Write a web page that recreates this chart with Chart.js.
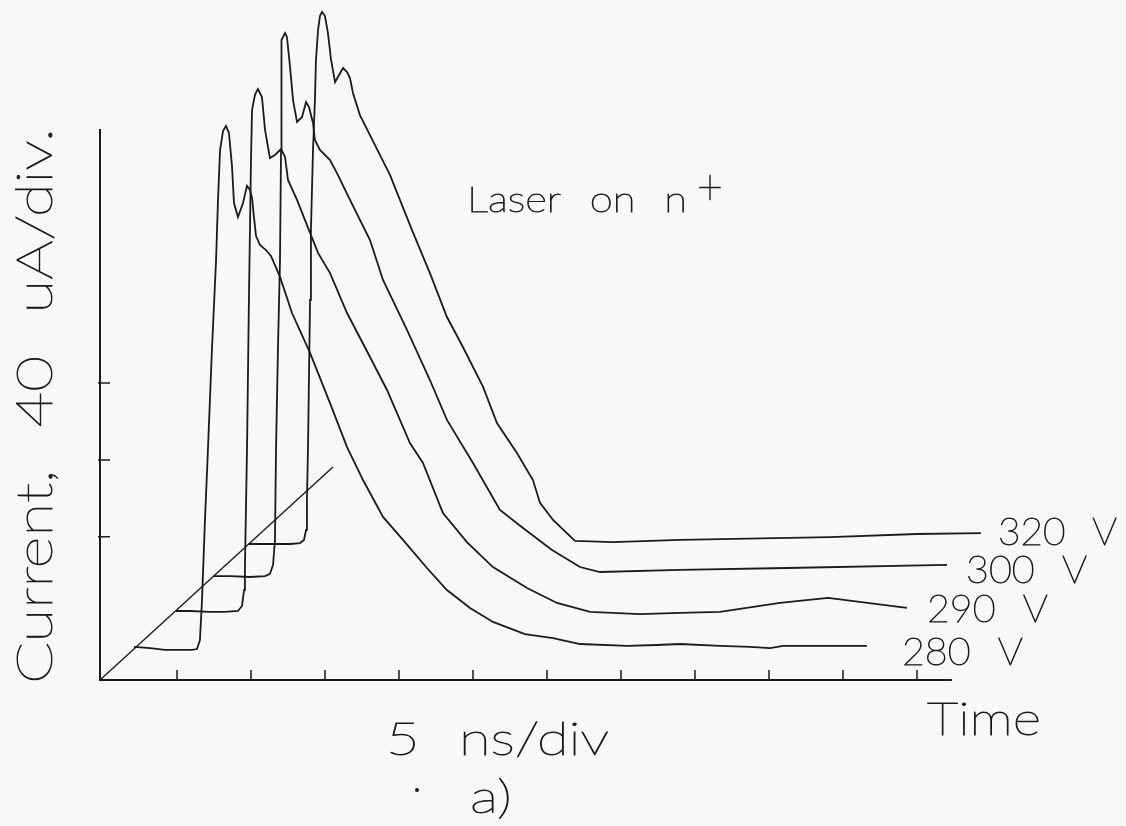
<!DOCTYPE html>
<html>
<head>
<meta charset="utf-8">
<title>Laser on n+</title>
<script src="https://cdn.jsdelivr.net/npm/chart.js@4.4.1/dist/chart.umd.min.js"></script>
<style>
  html, body { margin: 0; padding: 0; background: #f8f8f8; }
  canvas { display: block; }
</style>
</head>
<body>
<canvas id="pulseChart" width="1126" height="826"></canvas>
<script>
// ---- data: time in ns, current in uA ----
// 280 V
const time280 = [2.09,3.18,4.19,5.20,6.01,6.35,6.55,6.69,6.89,7.09,7.36,7.64,7.77,7.91,8.11,8.31,8.51,8.72,8.85,9.12,9.46,9.73,9.93,10.07,10.20,10.34,10.61,11.01,11.35,11.96,12.77,13.99,15.34,16.49,17.57,18.92,20.27,21.89,23.24,24.80,26.35,28.51,30.41,32.23,35.41,37.43,38.99,41.69,43.72,45.07,45.95,51.62];
const current280 = [-17.4,-18.0,-19.0,-19.0,-19.0,-18.5,-13.8,7.0,48.7,85.2,137.2,184.1,215.4,241.4,251.3,253.9,250.3,232.6,213.8,206.5,213.8,222.7,220.6,216.4,206.5,196.6,191.9,189.3,186.2,175.3,156.5,135.7,109.6,86.7,69.5,50.3,38.3,23.7,12.2,2.9,-4.4,-10.7,-12.8,-15.9,-16.9,-16.4,-15.9,-16.9,-17.4,-18.0,-16.9,-16.9];

// 290 V
const time290 = [4.93,5.88,7.23,8.24,9.12,9.39,9.53,9.59,9.73,9.86,9.93,10.00,10.07,10.27,10.47,10.74,10.95,11.28,11.62,12.03,12.30,12.50,13.11,13.99,14.53,15.34,16.49,18.04,19.19,20.74,21.62,22.97,24.59,26.35,28.65,30.68,32.91,36.28,38.99,41.69,45.74,48.99,54.32];
const current290 = [1.3,1.3,0.8,0.8,1.3,3.9,12.2,23.7,85.2,163.3,199.7,236.2,262.2,270.1,273.2,269.0,251.8,237.2,238.8,241.9,237.8,225.8,215.4,198.2,187.8,177.3,156.5,133.6,116.4,88.8,78.4,52.3,37.2,24.2,13.3,5.5,0.8,-0.3,0.3,0.8,5.5,8.1,2.9];

// 300 V
const time300 = [7.50,8.58,9.93,10.95,11.28,11.49,11.62,11.69,11.82,11.96,12.03,12.03,12.09,12.30,12.43,12.64,12.84,13.11,13.45,13.72,13.92,14.19,14.32,14.66,15.34,15.81,16.69,18.04,18.92,20.54,22.09,23.24,25.00,26.82,28.38,30.34,32.23,33.58,38.99,46.22,57.03];
const current300 = [19.5,19.5,19.0,19.5,20.6,25.3,38.3,85.2,137.2,184.1,241.4,288.3,298.7,302.3,300.3,284.6,267.4,256.0,258.6,266.4,263.8,255.5,246.6,241.4,236.2,229.4,215.4,194.5,173.7,147.7,121.6,100.8,78.4,53.9,44.5,33.1,24.2,21.6,22.7,23.7,25.3];

// 320 V
const time320 = [9.86,11.28,12.64,13.31,13.58,13.72,13.78,13.85,13.99,14.05,14.19,14.32,14.39,14.53,14.66,14.80,15.00,15.20,15.41,15.68,15.95,16.22,16.49,16.69,16.89,17.36,18.04,19.39,20.88,22.09,23.24,24.32,25.68,26.62,27.97,29.05,29.53,30.41,31.89,34.46,38.99,49.12,55.00,59.32];
const current320 = [36.2,36.2,36.2,36.7,38.3,43.5,59.1,85.2,163.3,199.7,241.4,267.4,288.3,303.9,311.2,313.3,311.2,302.3,288.3,276.8,280.5,284.1,282.0,278.9,271.1,259.6,249.2,228.4,199.7,177.3,154.4,138.8,118.0,99.2,83.6,69.5,57.6,48.7,37.8,37.2,38.3,39.8,41.4,41.9];

// perspective (depth) axis of the waterfall
const depthTime = [-0.20, 15.54];
const depthCurrent = [-34.6, 76.3];

const seriesLabels = ['280 V', '290 V', '300 V', '320 V'];
const timeTicks = [5, 10, 15, 20, 25, 30, 35, 40, 45, 50, 55];
const currentTicks = [40, 80, 120];
const timeAxisEnd = 57.36;
const currentAxisTop = 252.3;

const INK = '#1b1b1b';
const FONT = '"Lato", "Roboto", "DejaVu Sans", sans-serif';

const zip = (xs, ys) => xs.map((x, i) => ({ x, y: ys[i] }));

const lineSet = (data, width) => ({
    data,
    borderColor: INK,
    borderWidth: width,
    pointRadius: 0,
    fill: false,
    tension: 0,
    clip: false
});

// draws thin text stretched to the width the scan shows (wide word gaps like the plotter font)
function fitText(ctx, text, x, y, width, size, angle) {
    ctx.save();
    ctx.font = `200 ${size}px ${FONT}`;
    ctx.wordSpacing = Math.round(size * 0.4) + 'px';
    const w = ctx.measureText(text).width;
    ctx.translate(x, y);
    if (angle) ctx.rotate(angle);
    ctx.scale(width / w, 1);
    ctx.fillText(text, 0, 0);
    ctx.lineWidth = 0.9;
    ctx.strokeText(text, 0, 0);
    ctx.restore();
}

const background = {
    id: 'background',
    beforeDraw(chart) {
        const ctx = chart.ctx;
        ctx.save();
        ctx.fillStyle = '#f8f8f8';
        ctx.fillRect(0, 0, chart.width, chart.height);
        ctx.restore();
    }
};

const axesAndText = {
    id: 'axesAndText',
    afterDatasetsDraw(chart) {
        const ctx = chart.ctx;
        const xs = chart.scales.x, ys = chart.scales.y;
        const x0 = xs.getPixelForValue(xs.min);
        const y0 = ys.getPixelForValue(ys.min);

        ctx.save();
        ctx.strokeStyle = INK;
        ctx.lineCap = 'butt';

        // axis lines
        ctx.lineWidth = 2;
        ctx.beginPath();
        ctx.moveTo(x0, ys.getPixelForValue(currentAxisTop));
        ctx.lineTo(x0, y0);
        ctx.lineTo(xs.getPixelForValue(timeAxisEnd), y0);
        ctx.stroke();

        // inward ticks
        ctx.lineWidth = 1.5;
        ctx.beginPath();
        timeTicks.forEach(t => {
            const px = xs.getPixelForValue(t);
            ctx.moveTo(px, y0);
            ctx.lineTo(px, y0 - 10);
        });
        currentTicks.forEach(c => {
            const py = ys.getPixelForValue(c);
            ctx.moveTo(x0 - 2, py);
            ctx.lineTo(x0 + 10, py);
        });
        ctx.stroke();

        // series labels at the end of each trace
        ctx.fillStyle = INK;
        ctx.textBaseline = 'alphabetic';
        const ends = [
            { dx: 35, dy: 19, w: 121 },
            { dx: 20, dy: 14, w: 121 },
            { dx: 19, dy: 18, w: 121 },
            { dx: 17, dy: 12, w: 119 }
        ];
        chart.data.datasets.slice(0, 4).forEach((ds, i) => {
            const last = ds.data[ds.data.length - 1];
            const px = xs.getPixelForValue(last.x);
            const py = ys.getPixelForValue(last.y);
            fitText(ctx, seriesLabels[i], px + ends[i].dx, py + ends[i].dy, ends[i].w, 37);
        });

        // annotation
        fitText(ctx, 'Laser on n', 467, 212, 220, 35);
        fitText(ctx, '+', 697, 204, 26, 50);

        // axis titles
        fitText(ctx, 'Time', 927, 735, 114, 46);
        fitText(ctx, '5 ns/div', 386, 755, 223, 46);
        fitText(ctx, 'Current, 40 uA/div.', 52, 684, 556, 50, -Math.PI / 2);
        fitText(ctx, 'a)', 470, 813, 42, 46);

        ctx.beginPath();
        ctx.arc(417, 790, 2, 0, Math.PI * 2);
        ctx.fill();
        ctx.restore();
    }
};

new Chart(document.getElementById('pulseChart'), {
    type: 'line',
    data: {
        datasets: [
            lineSet(zip(time280, current280), 1.8),
            lineSet(zip(time290, current290), 1.8),
            lineSet(zip(time300, current300), 1.8),
            lineSet(zip(time320, current320), 1.8),
            lineSet(zip(depthTime, depthCurrent), 1.4)
        ]
    },
    options: {
        responsive: false,
        animation: false,
        devicePixelRatio: 1,
        layout: { padding: { left: 100, right: 126, top: 0, bottom: 146 } },
        plugins: {
            legend: { display: false },
            tooltip: { enabled: false }
        },
        scales: {
            x: { type: 'linear', min: -0.2027, max: 60.61, display: false },
            y: { type: 'linear', min: -34.64, max: 319.53, display: false }
        }
    },
    plugins: [background, axesAndText]
});
</script>
</body>
</html>
